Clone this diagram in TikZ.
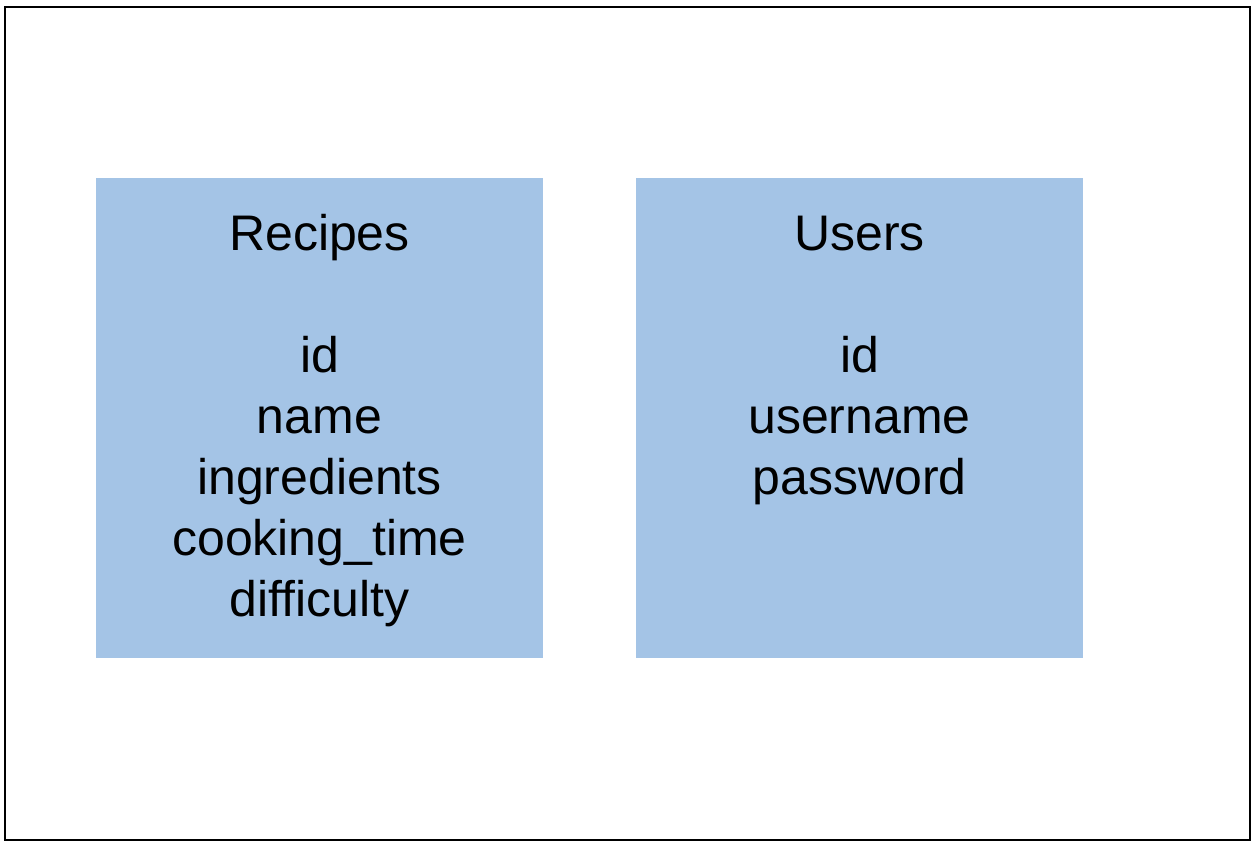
\documentclass[tikz,border=0pt]{standalone}
\usepackage{fontspec}
\setmainfont{Liberation Sans}
\usetikzlibrary{positioning}

\definecolor{tableblue}{HTML}{A4C4E6}

\begin{document}
\begin{tikzpicture}[x=1pt, y=-1pt,
          % table boxes
          tablebox/.style={rectangle, fill=tableblue, draw=none, minimum width=447pt, minimum height=480pt, inner sep=0pt},
          tabletext/.style={align=center, inner sep=0pt, font=\fontsize{50}{61}\selectfont},
          frame/.style={draw=black, line width=2.5pt}
        ]
          \useasboundingbox (0,0) rectangle (1255,847);

          % outer frame
          \draw[frame] (5,7) rectangle (1250,840);

          % tables
          \node[tablebox] (recipes) at (319.5,418) {};
          \node[tablebox] (users) at (859.5,418) {};

          % field lists
          \node[tabletext, anchor=north] (recipes_text) at ([yshift=-30pt]recipes.north)
            {\strut Recipes\\ \\id\\name\\ingredients\\cooking\_time\\difficulty};
          \node[tabletext, anchor=north] (users_text) at ([yshift=-30pt]users.north)
            {\strut Users\\ \\id\\username\\password};
        \end{tikzpicture}
\end{document}
